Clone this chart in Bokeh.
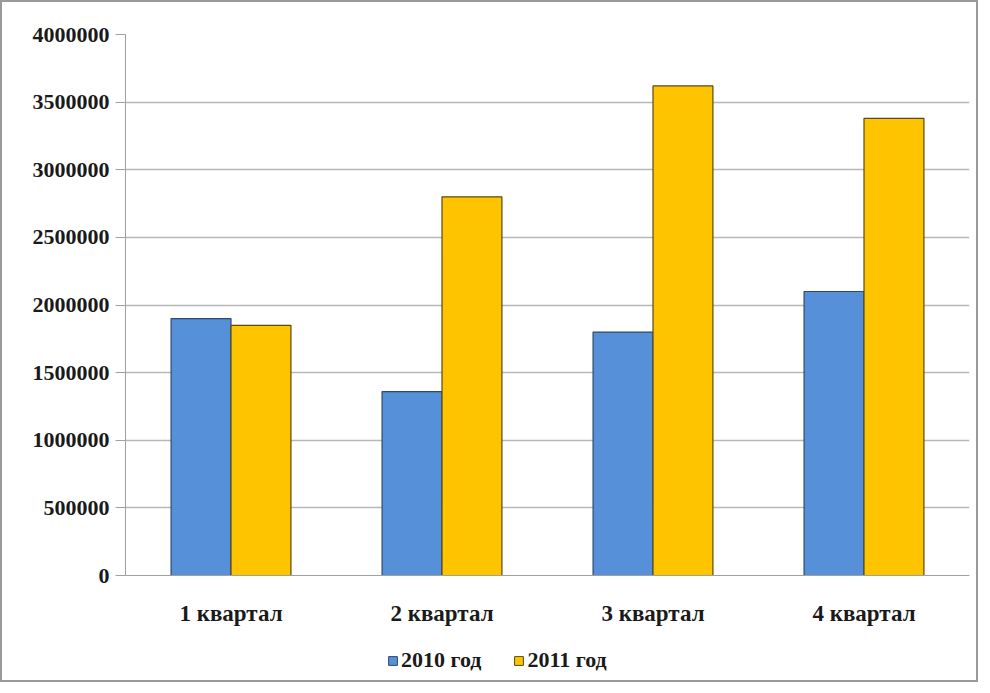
from bokeh.plotting import figure
from bokeh.layouts import column
from bokeh.models import ColumnDataSource, FactorRange, Range1d, SingleIntervalTicker, NumeralTickFormatter, Legend
from bokeh.transform import dodge
from bokeh.embed import file_html
from bokeh.resources import INLINE

quarters = ["1 квартал", "2 квартал", "3 квартал", "4 квартал"]
series_names = ["2010 год", "2011 год"]
values_2010 = [1900000, 1360000, 1800000, 2100000]
values_2011 = [1850000, 2800000, 3620000, 3380000]
colors = ["#5590d8", "#ffc400"]
edges = ["#2b4a6e", "#5a4a10"]

source = ColumnDataSource(dict(q=quarters, y2010=values_2010, y2011=values_2011))

FONT = "Liberation Serif"
W = 974

p = figure(x_range=FactorRange(*quarters, range_padding=0), y_range=Range1d(0, 4000000),
           width=W, height=633, output_backend="svg", toolbar_location=None,
           min_border_left=123, min_border_right=7, min_border_top=32, min_border_bottom=60)

p.vbar(x=dodge("q", -0.142, range=p.x_range), top="y2010", width=0.284, source=source,
       fill_color=colors[0], line_color=edges[0], line_width=1.2)
p.vbar(x=dodge("q", 0.142, range=p.x_range), top="y2011", width=0.284, source=source,
       fill_color=colors[1], line_color=edges[1], line_width=1.2)

p.yaxis.ticker = SingleIntervalTicker(interval=500000)
p.yaxis.formatter = NumeralTickFormatter(format="0")
p.yaxis.major_label_text_font = FONT
p.yaxis.major_label_text_font_style = "bold"
p.yaxis.major_label_text_font_size = "22px"
p.yaxis.major_label_text_color = "#1a1a1a"
p.yaxis.axis_line_color = "#a0a0a0"
p.yaxis.major_tick_line_color = "#a0a0a0"
p.yaxis.major_tick_out = 10
p.yaxis.major_tick_in = 0
p.yaxis.minor_tick_line_color = None
p.yaxis.major_label_standoff = 6

p.xaxis.major_label_text_font = FONT
p.xaxis.major_label_text_font_style = "bold"
p.xaxis.major_label_text_font_size = "23px"
p.xaxis.major_label_text_color = "#1a1a1a"
p.xaxis.axis_line_color = "#a0a0a0"
p.xaxis.major_tick_line_color = None
p.xaxis.major_label_standoff = 19

p.ygrid.grid_line_color = "#b8b8b8"
p.ygrid.grid_line_width = 1.5
p.xgrid.grid_line_color = None
p.outline_line_color = None

# legend strip (proxy glyphs lie outside the visible range)
p2 = figure(x_range=Range1d(0, 1), y_range=Range1d(0, 1), width=W, height=45,
            output_backend="svg", toolbar_location=None,
            x_axis_location=None, y_axis_location=None,
            min_border_left=0, min_border_right=0, min_border_top=0, min_border_bottom=0)
p2.outline_line_color = None
p2.xgrid.grid_line_color = None
p2.ygrid.grid_line_color = None
l1 = p2.vbar(x=[-10], top=[-10], width=0.1, fill_color=colors[0], line_color=edges[0])
l2 = p2.vbar(x=[-10], top=[-10], width=0.1, fill_color=colors[1], line_color=edges[1])

legend = Legend(items=[(series_names[0], [l1]), (series_names[1], [l2])],
                orientation="horizontal", location=(262, 7))
legend.label_text_font = FONT
legend.label_text_font_style = "bold"
legend.label_text_font_size = "22px"
legend.label_text_color = "#1a1a1a"
legend.glyph_width = 11
legend.glyph_height = 11
legend.label_standoff = 3
legend.spacing = 32
legend.padding = 5
legend.margin = 0
legend.border_line_color = None
legend.background_fill_alpha = 0
p2.add_layout(legend, "center")

layout = column(p, p2, spacing=0)
layout.styles = {"border": "2px solid #9a9a9a"}

open("out.html", "w").write(file_html(layout, INLINE))
